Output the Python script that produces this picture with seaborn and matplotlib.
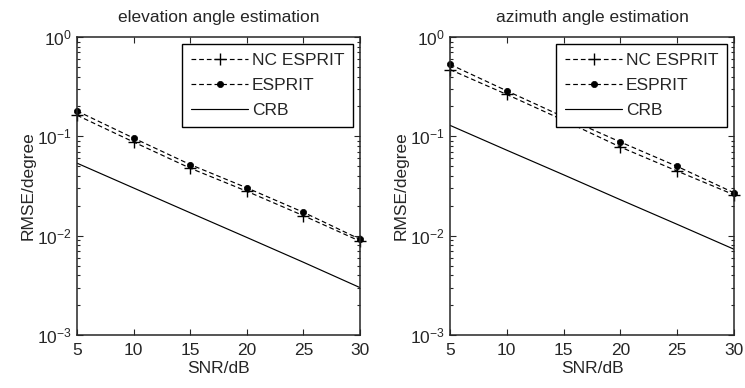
import numpy as np
import pandas as pd
import matplotlib
matplotlib.use("Agg")
import matplotlib.pyplot as plt
import seaborn as sns

# SNR points (dB)
snr = [5, 10, 15, 20, 25, 30]

# elevation angle RMSE (degree)
elev_nc_esprit = [0.163, 0.0877, 0.0478, 0.028, 0.0159, 0.0088]
elev_esprit = [0.18, 0.096, 0.052, 0.0303, 0.0172, 0.0092]
elev_crb = [0.0537, 0.0302, 0.017, 0.0096, 0.0054, 0.003]

# azimuth angle RMSE (degree)
azim_nc_esprit = [0.47, 0.264, 0.145, 0.078, 0.0447, 0.0258]
azim_esprit = [0.53, 0.287, 0.157, 0.0877, 0.0498, 0.027]
azim_crb = [0.129, 0.0725, 0.041, 0.023, 0.013, 0.0073]

titles = ["elevation angle estimation", "azimuth angle estimation"]
series_names = ["NC ESPRIT", "ESPRIT", "CRB"]

sns.set_style("ticks")
plt.rcParams['font.family'] = ['Liberation Sans', 'DejaVu Sans']
plt.rcParams['mathtext.fontset'] = 'custom'
plt.rcParams['mathtext.rm'] = 'Liberation Sans'
plt.rcParams['mathtext.it'] = 'Liberation Sans'
plt.rcParams['font.size'] = 12.5

fs = 12.5
fig = plt.figure(figsize=(7.45, 3.88), dpi=100)
ax_pos = [[77 / 745, 53 / 388, 283 / 745, 298 / 388],
          [450 / 745, 53 / 388, 284 / 745, 298 / 388]]

data_sets = [(elev_nc_esprit, elev_esprit, elev_crb),
             (azim_nc_esprit, azim_esprit, azim_crb)]

for i, (nc, es, crb) in enumerate(data_sets):
    ax = fig.add_axes(ax_pos[i])
    sns.lineplot(x=snr, y=nc, ax=ax, color='k', linestyle='--', linewidth=0.85,
                 marker='+', markersize=9, markeredgewidth=1.0,
                 markeredgecolor='k', label=series_names[0])
    sns.lineplot(x=snr, y=es, ax=ax, color='k', linestyle='--', linewidth=0.85,
                 marker='o', markersize=4.5, markeredgewidth=0.5,
                 markeredgecolor='k', markerfacecolor='k', label=series_names[1])
    sns.lineplot(x=snr, y=crb, ax=ax, color='k', linestyle='-', linewidth=0.85,
                 label=series_names[2])
    for line in ax.get_lines()[:2]:
        line.set_dashes([4, 2.5])
        line.set_clip_on(False)
    ax.set_yscale('log')
    ax.set_xlim(5, 30)
    ax.set_ylim(1e-3, 1)
    ax.set_xticks(snr)
    ax.set_yticks([1e-3, 1e-2, 1e-1, 1])
    ax.tick_params(which='both', direction='in', top=True, right=True,
                   labelsize=fs, width=0.8)
    ax.tick_params(axis='x', pad=6)
    ax.tick_params(axis='y', pad=4)
    ax.tick_params(which='major', length=4)
    ax.tick_params(which='minor', length=2)
    ax.tick_params(axis='x', which='minor', top=False, bottom=False)
    for sp in ax.spines.values():
        sp.set_linewidth(1.1)
        sp.set_visible(True)
    ax.set_title(titles[i], fontsize=fs, pad=11)
    ax.set_xlabel("SNR/dB", fontsize=fs, labelpad=2)
    ax.set_ylabel("RMSE/degree", fontsize=fs, labelpad=1)
    leg = ax.legend(loc='upper right', fontsize=fs, frameon=True, fancybox=False,
                    handlelength=3.3, handletextpad=0.2, borderpad=0.5,
                    labelspacing=0.58, borderaxespad=0,
                    bbox_to_anchor=(0.975, 0.977))
    leg.get_frame().set_edgecolor('k')
    leg.get_frame().set_linewidth(1.0)
    leg.get_frame().set_alpha(1)

fig.savefig("out.png", dpi=100)
